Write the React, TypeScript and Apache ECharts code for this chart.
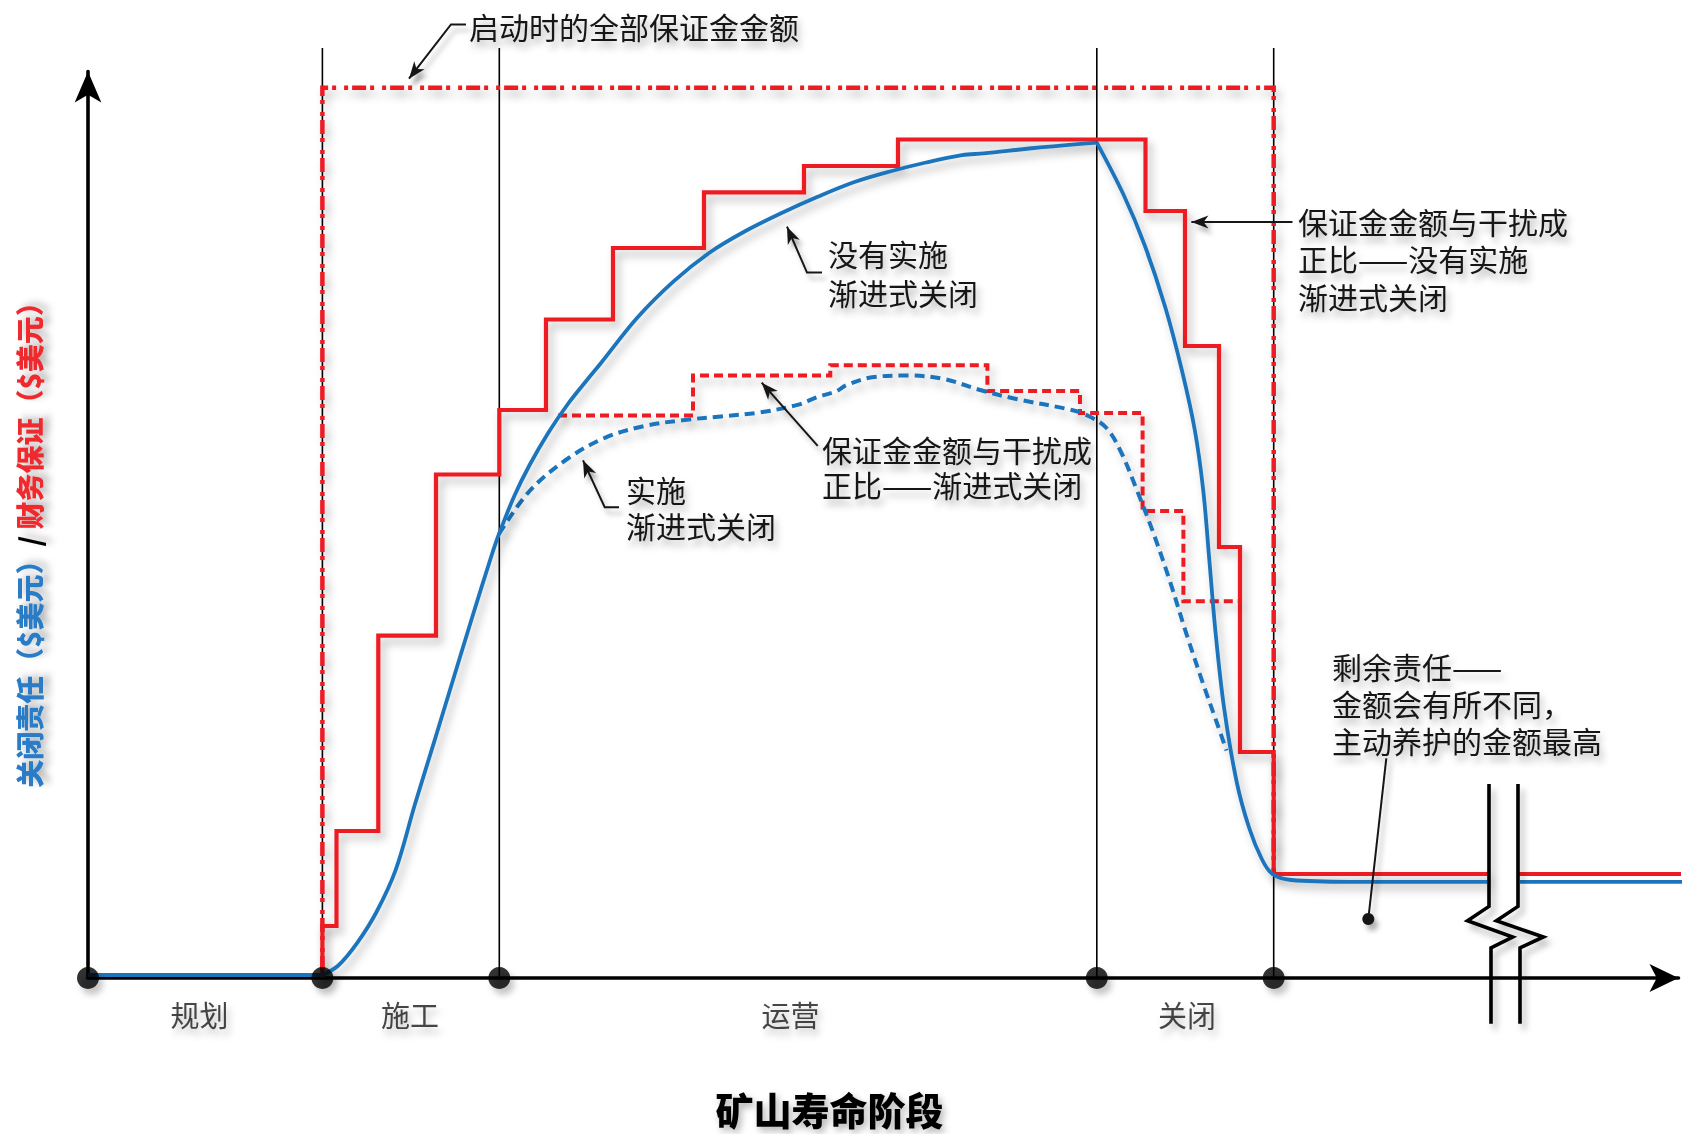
import React, { useEffect, useRef } from "react";
import * as echarts from "echarts";

// ---------------- data (x: mine-life time units, y: $ units) ----------------
const phaseNames = ["规划", "施工", "运营", "关闭"];
const phaseLabelX = [11.15, 32.2, 70.26, 109.9];
const phaseBoundaryX = [0, 23.44, 41.13, 100.88, 118.57];
const phaseLineTop = 93;

// full bond posted at start-up (dash-dot)
const fullBondX = [23.44, 23.44, 118.57, 118.57];
const fullBondY = [0, 89.03, 89.03, 10.4];

// bond proportional to disturbance, no progressive closure (solid red steps)
const bondNoProgX = [23.44, 23.44, 24.85, 29.03, 34.8, 41.13, 45.8, 52.5, 61.6, 71.6, 81.0, 105.75, 109.7, 113.1, 115.2, 118.57, 140.1];
const bondNoProgY = [0, 5.2, 14.7, 34.24, 50.35, 56.8, 65.85, 73.0, 78.56, 81.2, 83.85, 76.7, 63.2, 43.1, 22.6, 10.4, 10.4];
const bondTailX = [143.0, 160.5];
const bondTailY = [10.4, 10.4];

// bond proportional to disturbance, progressive closure (dashed red steps)
const bondProgX = [47.0, 60.5, 74.23, 89.94, 99.2, 105.46, 109.54, 115.2];
const bondProgY = [56.25, 60.25, 61.27, 58.7, 56.5, 46.7, 37.67, 37.67];

// closure liability, no progressive closure (solid blue)
const liabPlanX = [0, 23.44];
const liabPlanY = [0.3, 0.3];
const liabRiseX = [23.44, 25.03, 26.94, 28.85, 30.77, 32.68, 34.6, 36.51, 38.42, 40.34, 41.1, 42.63, 44.16, 46.08, 47.99, 49.9, 51.3, 54.9, 58.53, 62.14, 65.75, 69.36, 72.97, 76.58, 80.2, 83.8, 87.4, 89.58, 94.63, 100.88];
const liabRiseY = [0.3, 1.25, 3.54, 6.6, 10.81, 17.32, 23.56, 29.83, 36.07, 42.2, 44.4, 48.2, 51.3, 54.6, 57.4, 59.8, 61.5, 66.0, 69.64, 72.53, 74.7, 76.5, 78.12, 79.57, 80.65, 81.55, 82.28, 82.46, 83.0, 83.54];
const liabFallX = [100.88, 103.57, 105.66, 107.75, 109.43, 110.68, 111.52, 112.15, 112.77, 113.61, 114.87, 116.12, 117.38, 118.42, 120.3, 126.2, 139.94];
const liabFallY = [83.54, 78.3, 73.3, 67.0, 60.6, 54.8, 48.8, 41.6, 34.4, 27.0, 19.6, 15.0, 11.9, 10.42, 9.8, 9.62, 9.62];
const liabTailX = [143.2, 160.5];
const liabTailY = [9.62, 9.62];

// closure liability, progressive closure (dashed blue)
const liabProgX = [41.1, 44.16, 47.99, 51.8, 55.64, 59.47, 63.3, 67.12, 70.95, 72.97, 74.78, 75.86, 78.39, 82.0, 85.6, 89.2, 92.83, 98.24, 100.05, 101.85, 103.3, 104.82, 106.5, 108.17, 109.84, 111.52, 112.86, 113.85];
const liabProgY = [44.4, 48.7, 51.95, 54.06, 55.2, 55.78, 56.16, 56.55, 57.31, 58.1, 58.65, 59.3, 60.07, 60.25, 59.9, 58.8, 57.9, 56.83, 56.2, 55.0, 52.6, 48.96, 44.6, 39.75, 34.42, 29.4, 25.6, 22.75];

// texts
const yTitleLiability = "关闭责任（$美元）";
const yTitleBond = "财务保证（$美元）";
const xTitle = "矿山寿命阶段";
const noteFullBond = ["启动时的全部保证金金额"];
const noteNoProg = ["没有实施", "渐进式关闭"];
const noteProg = ["实施", "渐进式关闭"];
const noteBondProg = ["保证金金额与干扰成", "正比——渐进式关闭"];
const noteBondNoProg = ["保证金金额与干扰成", "正比——没有实施", "渐进式关闭"];
const noteResidual = ["剩余责任——", "金额会有所不同，", "主动养护的金额最高"];

// ---------------- styling ----------------
const FONT = '"Noto Sans CJK SC", "Noto Sans", sans-serif';
const RED = "#ED1C24";
const BLUE = "#1C75BC";
const INK = "#161616";
const SH = { shadowColor: "rgba(0,0,0,0.28)", shadowBlur: 8, shadowOffsetX: 4, shadowOffsetY: 6 };
const NOSH = { shadowColor: "transparent", shadowBlur: 0, shadowOffsetX: 0, shadowOffsetY: 0 };
const TSH = { textShadowColor: "rgba(0,0,0,0.3)", textShadowBlur: 7, textShadowOffsetX: 3, textShadowOffsetY: 6 };

const zip = (xs: number[], ys: number[]) => xs.map((x, i) => [x, ys[i]]);

function lineSeries(name: string, xs: number[], ys: number[], lineStyle: any, extra: any = {}) {
  return {
    type: "line",
    name,
    data: zip(xs, ys),
    symbol: "none",
    showSymbol: false,
    clip: false,
    silent: true,
    z: 3,
    lineStyle: { join: "miter", cap: "butt", ...SH, ...lineStyle },
    ...extra,
  };
}

function arrowHead(tip: number[], from: number[], len = 17, half = 6.5) {
  const dx = tip[0] - from[0];
  const dy = tip[1] - from[1];
  const d = Math.hypot(dx, dy) || 1;
  const ux = dx / d, uy = dy / d;
  const px = -uy, py = ux;
  const bx = tip[0] - ux * len, by = tip[1] - uy * len;
  const nx = tip[0] - ux * len * 0.72, ny = tip[1] - uy * len * 0.72;
  return {
    type: "polygon",
    shape: { points: [tip, [bx + px * half, by + py * half], [nx, ny], [bx - px * half, by - py * half]] },
    style: { fill: INK, ...SH, shadowBlur: 5 },
    z: 20,
  };
}

function leader(points: number[][], arrow = true, shadow = true) {
  const els: any[] = [
    {
      type: "polyline",
      shape: { points },
      style: { stroke: INK, lineWidth: 2, fill: null, ...(shadow ? { ...SH, shadowBlur: 5 } : NOSH) },
      z: 19,
    },
  ];
  if (arrow) els.push(arrowHead(points[points.length - 1], points[points.length - 2]));
  return els;
}

function textBlock(lines: string[], x: number, yCenter: number, lineHeight: number) {
  return {
    type: "text",
    x,
    y: yCenter,
    z: 25,
    style: {
      text: lines.join("\n"),
      fill: INK,
      fontSize: 30,
      lineHeight,
      fontFamily: FONT,
      align: "left",
      verticalAlign: "middle",
      textAlign: "left",
      textVerticalAlign: "middle",
      ...TSH,
    },
  };
}

export default function App() {
  const ref = useRef<HTMLDivElement>(null);

  useEffect(() => {
    if (!ref.current) return;
    const chart = echarts.init(ref.current, undefined, { renderer: "svg" });

    const phaseLines = phaseBoundaryX.slice(1).map((x, i) =>
      lineSeries("phase" + i, [x, x], [0, phaseLineTop], { color: "#000", width: 1.6, ...NOSH }, { z: 2 })
    );

    const series: any[] = [
      ...phaseLines,
      lineSeries("启动时的全部保证金金额", fullBondX, fullBondY, { color: RED, width: 4.5, type: [4, 4, 14, 4, 4, 8] }),
      lineSeries("保证金（没有实施渐进式关闭）", bondNoProgX, bondNoProgY, { color: RED, width: 4.2 }, { step: "end" }),
      lineSeries("保证金尾段", bondTailX, bondTailY, { color: RED, width: 4.2, ...NOSH }),
      lineSeries("保证金（渐进式关闭）", bondProgX, bondProgY, { color: RED, width: 4, type: [9, 5] }, { step: "end" }),
      lineSeries("责任（规划）", liabPlanX, liabPlanY, { color: BLUE, width: 4, ...NOSH }),
      lineSeries("责任（实施渐进式关闭）", liabProgX, liabProgY, { color: BLUE, width: 4, type: [10, 6] }, { smooth: 0.35 }),
      lineSeries("责任（没有实施渐进式关闭）", liabRiseX, liabRiseY, { color: BLUE, width: 3.8 }, { smooth: 0.35, z: 4 }),
      lineSeries("责任（关闭）", liabFallX, liabFallY, { color: BLUE, width: 3.8 }, { smooth: 0.35, z: 4 }),
      lineSeries("责任尾段", liabTailX, liabTailY, { color: BLUE, width: 3.8, ...NOSH }),
      {
        type: "scatter",
        name: "phase points",
        data: phaseBoundaryX.map((x) => [x, 0]),
        symbol: "circle",
        symbolSize: 22,
        clip: false,
        silent: true,
        z: 10,
        itemStyle: { color: "#000", ...SH, shadowBlur: 6 },
      },
      {
        type: "scatter",
        name: "phase labels",
        data: phaseNames.map((n, i) => ({ value: [phaseLabelX[i], 0], name: n })),
        symbolSize: 0,
        clip: false,
        silent: true,
        z: 10,
        label: {
          show: true,
          position: "inside",
          offset: [0, 36],
          formatter: "{b}",
          color: INK,
          fontSize: 29,
          fontFamily: FONT,
          ...TSH,
        },
      },
    ];

    const breakLeft = [[1489, 784], [1489, 906.4], [1467.5, 920.8], [1512.7, 937], [1491, 947.9], [1491, 1023.7]];
    const breakRight = [[1518, 784], [1518, 906.4], [1496.4, 920.8], [1543.4, 937], [1520, 947.9], [1520, 1023.7]];

    const graphic: any[] = [
      ...[breakLeft, breakRight].map((pts) => ({
        type: "polyline",
        shape: { points: pts },
        style: { stroke: "#000", lineWidth: 3.6, fill: null, lineJoin: "miter", ...SH, shadowBlur: 6 },
        z: 30,
      })),
      ...leader([[466, 24.5], [451, 24.5], [409, 78.7]]),
      ...leader([[822, 272.6], [807, 272.6], [787, 226.7]]),
      ...leader([[619, 507.2], [604.7, 507.2], [583, 460.3]]),
      ...leader([[817.7, 445.8], [761.7, 382.7]]),
      ...leader([[1292.5, 222], [1191.4, 222]], true, false),
      ...leader([[1386.3, 758.3], [1368.3, 919]], false),
      {
        type: "circle",
        shape: { cx: 1368.3, cy: 919, r: 6 },
        style: { fill: INK, ...SH, shadowBlur: 5 },
        z: 20,
      },
      textBlock(noteFullBond, 469, 26, 36),
      textBlock(noteNoProg, 828, 272.3, 38.5),
      textBlock(noteProg, 626, 506.8, 35.5),
      textBlock(noteBondProg, 822, 466.3, 35.5),
      textBlock(noteBondNoProg, 1298, 258.3, 37.5),
      textBlock(noteResidual, 1332, 702.8, 37.3),
      {
        type: "text",
        x: 829.5,
        y: 1108,
        z: 25,
        style: {
          text: xTitle,
          fill: "#000",
          fontSize: 38,
          lineHeight: 40,
          fontWeight: 900,
          fontFamily: FONT,
          align: "center",
          verticalAlign: "middle",
          textAlign: "center",
          textVerticalAlign: "middle",
          ...TSH,
          textShadowOffsetY: 4,
        },
      },
      {
        type: "text",
        x: 29,
        y: 538,
        rotation: Math.PI / 2,
        z: 25,
        style: {
          text: "{b|" + yTitleLiability + "}{k|/ }{r|" + yTitleBond + "}",
          align: "center",
          verticalAlign: "middle",
          textAlign: "center",
          textVerticalAlign: "middle",
          fontSize: 28,
          fontWeight: 900,
          fontFamily: FONT,
          rich: {
            b: { fill: "#2A7CC7", color: "#2A7CC7", fontSize: 28, fontWeight: 900, fontFamily: FONT, ...TSH },
            k: { fill: "#000", color: "#000", fontSize: 28, fontWeight: 900, fontFamily: FONT, ...TSH },
            r: { fill: "#EE2A2E", color: "#EE2A2E", fontSize: 28, fontWeight: 900, fontFamily: FONT, ...TSH },
          },
        },
      },
    ];

    const axisCommon = {
      type: "value",
      axisTick: { show: false },
      axisLabel: { show: false },
      splitLine: { show: false },
    };

    chart.setOption({
      animation: false,
      backgroundColor: "#ffffff",
      grid: { left: 88, right: 17.5, top: 71.5, bottom: 156, containLabel: false },
      xAxis: {
        ...axisCommon,
        min: 0,
        max: 159.05,
        axisLine: {
          show: true,
          symbol: ["none", "arrow"],
          symbolSize: [21, 29],
          lineStyle: { color: "#000", width: 3.6 },
        },
      },
      yAxis: {
        ...axisCommon,
        min: 0,
        max: 90.65,
        axisLine: {
          show: true,
          symbol: ["none", "arrow"],
          symbolSize: [20, 31],
          lineStyle: { color: "#000", width: 3.6 },
        },
      },
      series,
      graphic,
    });

    return () => chart.dispose();
  }, []);

  return (
    <div
      ref={ref}
      style={{ position: "absolute", left: 0, top: 0, width: 1696, height: 1134, background: "#fff" }}
    />
  );
}
